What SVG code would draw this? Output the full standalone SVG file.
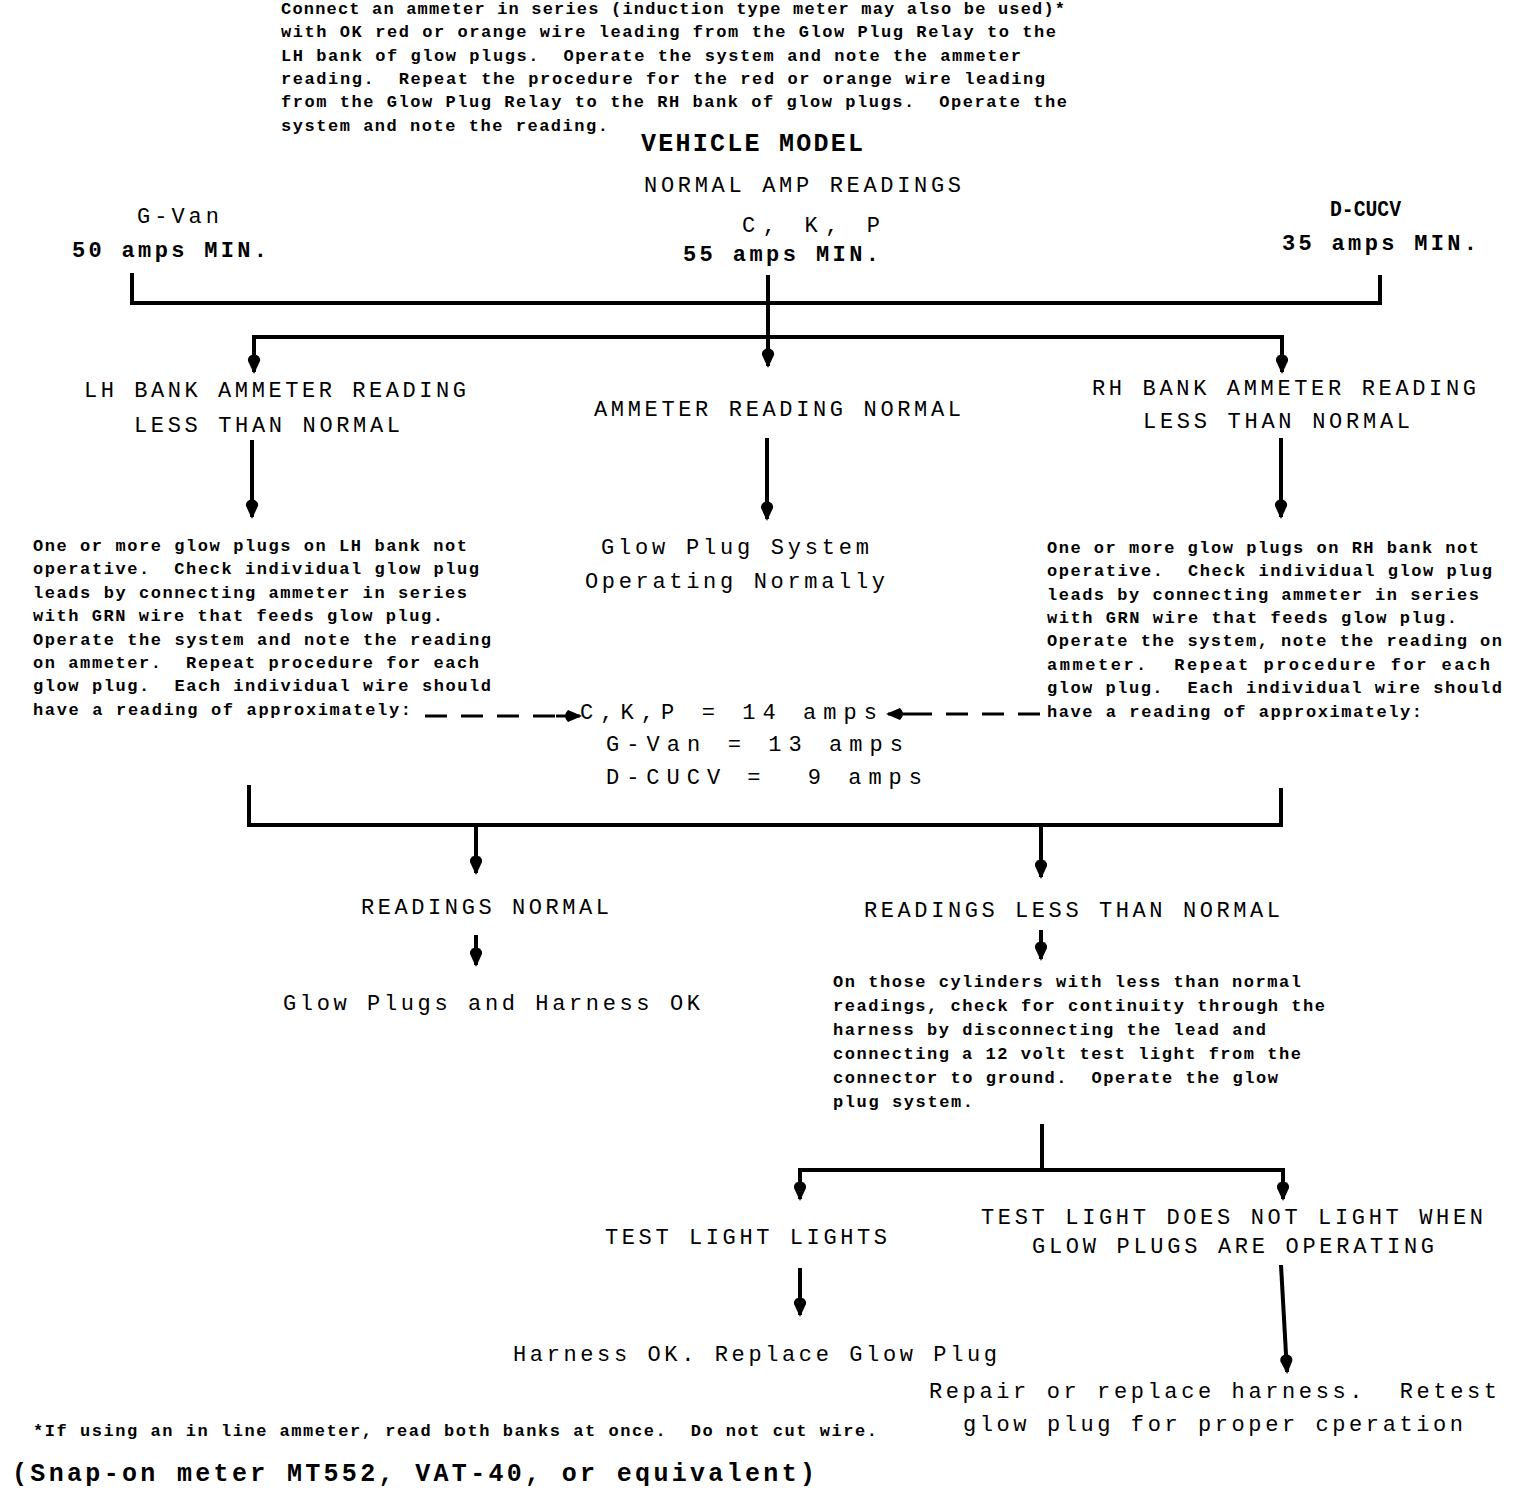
<svg xmlns="http://www.w3.org/2000/svg" width="1520" height="1490" viewBox="0 0 1520 1490">
<style>
text{white-space:pre}
.b{font-family:"Liberation Mono","Courier New",monospace;font-weight:bold;font-size:17px;fill:#000}
.t{font-family:"Liberation Mono","Courier New",monospace;font-size:22px;fill:#000}
.tb{font-family:"Liberation Mono","Courier New",monospace;font-weight:bold;font-size:22px;fill:#000}
.h{font-family:"Liberation Mono","Courier New",monospace;font-weight:bold;font-size:25px;fill:#000}
.ln{stroke:#000;stroke-width:4;fill:none}
.ar{stroke:#000;stroke-width:4;fill:none;marker-end:url(#ah)}
.da{stroke:#000;stroke-width:3;fill:none;stroke-dasharray:22,14}
</style>
<defs>
<marker id="ah" markerWidth="20" markerHeight="14" refX="18" refY="7" orient="auto" markerUnits="userSpaceOnUse" viewBox="0 0 20 14">
<path d="M20,7 L7,1 Q2,0 0,7 Q2,14 7,13 Z" fill="#000"/>
</marker>
<marker id="ahh" markerWidth="20" markerHeight="12" refX="18" refY="6" orient="auto" markerUnits="userSpaceOnUse" viewBox="0 0 20 12">
<path d="M20,6 L6,0 Q0,6 6,12 Z" fill="#000"/>
</marker>
</defs>
<rect width="1520" height="1490" fill="#fff"/>

<g id="intro">
<text class="b" x="281" y="14" textLength="784" lengthAdjust="spacing">Connect an ammeter in series (induction type meter may also be used)*</text>
<text class="b" x="281" y="37" textLength="775" lengthAdjust="spacing">with OK red or orange wire leading from the Glow Plug Relay to the</text>
<text class="b" x="281" y="61" textLength="740" lengthAdjust="spacing">LH bank of glow plugs.  Operate the system and note the ammeter</text>
<text class="b" x="281" y="84" textLength="764" lengthAdjust="spacing">reading.  Repeat the procedure for the red or orange wire leading</text>
<text class="b" x="281" y="107" textLength="786" lengthAdjust="spacing">from the Glow Plug Relay to the RH bank of glow plugs.  Operate the</text>
<text class="b" x="281" y="131" textLength="327" lengthAdjust="spacing">system and note the reading.</text>
</g>

<g id="header">
<text class="h" x="641" y="151" textLength="222" lengthAdjust="spacing">VEHICLE MODEL</text>
<text class="t" x="644" y="192" textLength="317" lengthAdjust="spacing">NORMAL AMP READINGS</text>
<text class="t" x="742" y="232" textLength="138" lengthAdjust="spacing">C, K, P</text>
<text class="tb" x="683" y="261" textLength="196" lengthAdjust="spacing">55 amps MIN.</text>
<text class="t" x="137" y="223" textLength="82" lengthAdjust="spacing">G-Van</text>
<text class="tb" x="72" y="257" textLength="195" lengthAdjust="spacing">50 amps MIN.</text>
<text class="tb" x="1330" y="216" textLength="71" lengthAdjust="spacingAndGlyphs">D-CUCV</text>
<text class="tb" x="1282" y="250" textLength="195" lengthAdjust="spacing">35 amps MIN.</text>
</g>

<g id="lh-bank">
<text class="t" x="84" y="397" textLength="382" lengthAdjust="spacing">LH BANK AMMETER READING</text>
<text class="t" x="134" y="432" textLength="266" lengthAdjust="spacing">LESS THAN NORMAL</text>
</g>
<g id="normal">
<text class="t" x="594" y="416" textLength="367" lengthAdjust="spacing">AMMETER READING NORMAL</text>
</g>
<g id="rh-bank">
<text class="t" x="1092" y="395" textLength="384" lengthAdjust="spacing">RH BANK AMMETER READING</text>
<text class="t" x="1143" y="428" textLength="267" lengthAdjust="spacing">LESS THAN NORMAL</text>
</g>

<g id="lh-check">
<text class="b" x="33" y="551" textLength="434" lengthAdjust="spacing">One or more glow plugs on LH bank not</text>
<text class="b" x="33" y="574" textLength="446" lengthAdjust="spacing">operative.  Check individual glow plug</text>
<text class="b" x="33" y="598" textLength="434" lengthAdjust="spacing">leads by connecting ammeter in series</text>
<text class="b" x="33" y="621" textLength="410" lengthAdjust="spacing">with GRN wire that feeds glow plug.</text>
<text class="b" x="33" y="645" textLength="458" lengthAdjust="spacing">Operate the system and note the reading</text>
<text class="b" x="33" y="668" textLength="446" lengthAdjust="spacing">on ammeter.  Repeat procedure for each</text>
<text class="b" x="33" y="691" textLength="458" lengthAdjust="spacing">glow plug.  Each individual wire should</text>
<text class="b" x="33" y="715" textLength="378" lengthAdjust="spacing">have a reading of approximately:</text>
</g>

<g id="sys-normal">
<text class="t" x="601" y="554" textLength="268" lengthAdjust="spacing">Glow Plug System</text>
<text class="t" x="585" y="588" textLength="300" lengthAdjust="spacing">Operating Normally</text>
</g>

<g id="rh-check">
<text class="b" x="1047" y="553" textLength="432" lengthAdjust="spacing">One or more glow plugs on RH bank not</text>
<text class="b" x="1047" y="576" textLength="445" lengthAdjust="spacing">operative.  Check individual glow plug</text>
<text class="b" x="1047" y="600" textLength="432" lengthAdjust="spacing">leads by connecting ammeter in series</text>
<text class="b" x="1047" y="623" textLength="410" lengthAdjust="spacing">with GRN wire that feeds glow plug.</text>
<text class="b" x="1047" y="646" textLength="455" lengthAdjust="spacing">Operate the system, note the reading on</text>
<text class="b" x="1047" y="670" textLength="443" lengthAdjust="spacing">ammeter.  Repeat procedure for each</text>
<text class="b" x="1047" y="693" textLength="455" lengthAdjust="spacing">glow plug.  Each individual wire should</text>
<text class="b" x="1047" y="717" textLength="375" lengthAdjust="spacing">have a reading of approximately:</text>
</g>

<g id="amps">
<text class="t" x="580" y="719" textLength="297" lengthAdjust="spacing">C,K,P = 14 amps</text>
<text class="t" x="606" y="751" textLength="297" lengthAdjust="spacing">G-Van = 13 amps</text>
<text class="t" x="606" y="784" textLength="316" lengthAdjust="spacing">D-CUCV =  9 amps</text>
</g>

<g id="readings-normal">
<text class="t" x="361" y="914" textLength="248" lengthAdjust="spacing">READINGS NORMAL</text>
</g>
<g id="readings-less">
<text class="t" x="864" y="917" textLength="416" lengthAdjust="spacing">READINGS LESS THAN NORMAL</text>
</g>
<g id="harness-ok">
<text class="t" x="283" y="1010" textLength="417" lengthAdjust="spacing">Glow Plugs and Harness OK</text>
</g>

<g id="continuity">
<text class="b" x="833" y="987" textLength="468" lengthAdjust="spacing">On those cylinders with less than normal</text>
<text class="b" x="833" y="1011" textLength="492" lengthAdjust="spacing">readings, check for continuity through the</text>
<text class="b" x="833" y="1035" textLength="433" lengthAdjust="spacing">harness by disconnecting the lead and</text>
<text class="b" x="833" y="1059" textLength="468" lengthAdjust="spacing">connecting a 12 volt test light from the</text>
<text class="b" x="833" y="1083" textLength="445" lengthAdjust="spacing">connector to ground.  Operate the glow</text>
<text class="b" x="833" y="1107" textLength="140" lengthAdjust="spacing">plug system.</text>
</g>

<g id="light-lights">
<text class="t" x="605" y="1244" textLength="282" lengthAdjust="spacing">TEST LIGHT LIGHTS</text>
</g>
<g id="light-not">
<text class="t" x="981" y="1224" textLength="502" lengthAdjust="spacing">TEST LIGHT DOES NOT LIGHT WHEN</text>
<text class="t" x="1032" y="1253" textLength="402" lengthAdjust="spacing">GLOW PLUGS ARE OPERATING</text>
</g>
<g id="replace-plug">
<text class="t" x="513" y="1361" textLength="484" lengthAdjust="spacing">Harness OK. Replace Glow Plug</text>
</g>
<g id="repair-harness">
<text class="t" x="929" y="1398" textLength="568" lengthAdjust="spacing">Repair or replace harness.  Retest</text>
<text class="t" x="963" y="1431" textLength="500" lengthAdjust="spacing">glow plug for proper cperation</text>
</g>

<g id="footnote">
<text class="b" x="33" y="1436" textLength="844" lengthAdjust="spacing">*If using an in line ammeter, read both banks at once.  Do not cut wire.</text>
<text class="h" x="12" y="1481" textLength="803" lengthAdjust="spacing">(Snap-on meter MT552, VAT-40, or equivalent)</text>
</g>

<g id="connectors">
<path class="ln" d="M132,273 V303 H1380 V275"/>
<path class="ar" d="M768,275 V366"/>
<path class="ln" d="M254,350 V337 H1282 V350"/>
<path class="ar" d="M254,345 V372"/>
<path class="ar" d="M1282,345 V372"/>
<path class="ar" d="M252,440 V517"/>
<path class="ar" d="M767,438 V519"/>
<path class="ar" d="M1281,438 V517"/>
<path class="da" d="M425,716 H560"/>
<path stroke="#000" stroke-width="3" d="M556,716 H580" marker-end="url(#ahh)"/>
<path class="da" d="M1040,714 H912"/>
<path stroke="#000" stroke-width="3" d="M912,714 H888" marker-end="url(#ahh)"/>
<path class="ln" d="M249,785 V825 H1281 V788"/>
<path class="ar" d="M476,825 V873"/>
<path class="ar" d="M1041,825 V877"/>
<path class="ar" d="M476,935 V965"/>
<path class="ar" d="M1041,930 V959"/>
<path class="ln" d="M1042,1124 V1170"/>
<path class="ln" d="M800,1185 V1170 H1283 V1185"/>
<path class="ar" d="M800,1178 V1199"/>
<path class="ar" d="M1283,1178 V1199"/>
<path class="ar" d="M800,1268 V1315"/>
<path class="ar" d="M1281,1265 L1287,1372"/>
</g>
</svg>
